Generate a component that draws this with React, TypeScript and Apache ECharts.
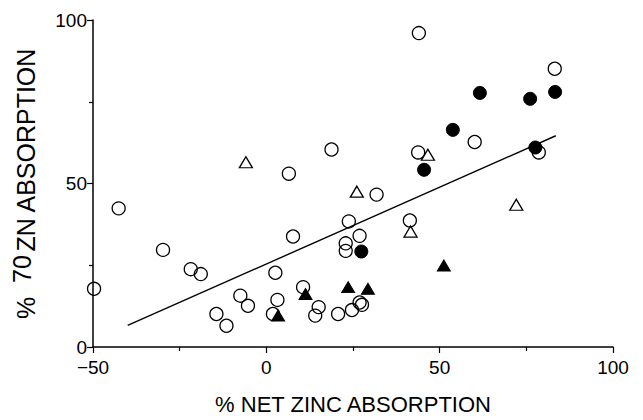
import React, { useEffect, useRef } from "react";
import * as echarts from "echarts";

// % net zinc absorption (x) vs % 70Zn absorption (y)
const openCircles: [number, number][] = [
  [-49.7, 17.8], [-42.6, 42.4], [-29.8, 29.7], [-21.8, 23.8], [-18.9, 22.3],
  [-14.4, 10.1], [-11.5, 6.5], [-7.5, 15.7], [-5.3, 12.6], [2.6, 22.7],
  [3.2, 14.4], [1.9, 10.1], [6.5, 53.0], [7.7, 33.8], [10.6, 18.3],
  [15.1, 12.2], [14.1, 9.6], [18.8, 60.4], [20.7, 10.1], [23.8, 38.4],
  [22.9, 31.7], [22.9, 29.4], [24.7, 11.3], [26.9, 34.0], [26.9, 13.6],
  [27.6, 12.9], [31.8, 46.6], [41.4, 38.7], [43.8, 59.5], [44.0, 96.0],
  [60.1, 62.7], [78.6, 59.5], [83.2, 85.1],
];
const filledCircles: [number, number][] = [
  [27.4, 29.2], [45.5, 54.2], [53.8, 66.4], [61.6, 77.7], [76.1, 75.9],
  [77.6, 61.0], [83.3, 78.0],
];
const openTriangles: [number, number][] = [
  [-5.9, 56.5], [26.1, 47.5], [41.6, 35.3], [46.6, 58.8], [72.1, 43.5],
];
const filledTriangles: [number, number][] = [
  [3.4, 9.6], [11.3, 16.2], [23.6, 18.3], [29.3, 17.8], [51.2, 24.9],
];
const regressionLine: [number, number][] = [
  [-40, 6.6], [83.5, 64.6],
];
const xTicks = [-50, 0, 50, 100];
const yTicks = [0, 50, 100];

const FONT = "Liberation Sans";

export default function App() {
  const ref = useRef<HTMLDivElement>(null);
  useEffect(() => {
    if (!ref.current) return;
    const chart = echarts.init(ref.current, undefined, { renderer: "svg" });
    const axisCommon = {
      axisLine: { onZero: false, lineStyle: { color: "#000", width: 1.5 } },
      axisTick: { show: true, length: 6, lineStyle: { color: "#000", width: 1.2 } },
      minorTick: { show: true, splitNumber: 2, length: 4, lineStyle: { color: "#000", width: 1.2 } },
      splitLine: { show: false },
      minorSplitLine: { show: false },
    };
    chart.setOption({
      animation: false,
      backgroundColor: "#fff",
      grid: { left: 93, right: 30, top: 20, bottom: 73, containLabel: false },
      xAxis: {
        type: "value",
        min: xTicks[0],
        max: xTicks[xTicks.length - 1],
        interval: 50,
        ...axisCommon,
        axisLabel: {
          color: "#000",
          fontFamily: FONT,
          fontSize: 19,
          margin: 11,
          formatter: (v: number) => (v < 0 ? "\u2212" + Math.abs(v) : String(v)),
        },
        name: "% NET ZINC ABSORPTION",
        nameLocation: "middle",
        nameGap: 46,
        nameTextStyle: { color: "#000", fontFamily: FONT, fontSize: 22 },
      },
      yAxis: {
        type: "value",
        min: yTicks[0],
        max: yTicks[yTicks.length - 1],
        interval: 50,
        ...axisCommon,
        axisLabel: { color: "#000", fontFamily: FONT, fontSize: 19, margin: 6 },
        name: "{a|%  }{s|70}{a|ZN ABSORPTION}",
        nameLocation: "middle",
        nameGap: 50,
        nameTextStyle: {
          color: "#000",
          fontFamily: FONT,
          fontSize: 25,
          rich: {
            a: { color: "#000", fontFamily: FONT, fontSize: 25, lineHeight: 34 },
            s: { color: "#000", fontFamily: FONT, fontSize: 25, lineHeight: 24, verticalAlign: "top", padding: [0, 3, 0, 0] },
          },
        },
      },
      series: [
        {
          type: "line",
          data: regressionLine,
          symbol: "none",
          lineStyle: { color: "#000", width: 1.4 },
          z: 1,
        },
        {
          type: "scatter",
          data: openCircles,
          symbol: "circle",
          symbolSize: 13,
          itemStyle: { color: "rgba(255,255,255,0)", borderColor: "#000", borderWidth: 1.3, opacity: 1 },
          z: 2,
        },
        {
          type: "scatter",
          data: filledCircles,
          symbol: "circle",
          symbolSize: 13,
          itemStyle: { color: "#000", borderColor: "#000", borderWidth: 1, opacity: 1 },
          z: 3,
        },
        {
          type: "scatter",
          data: openTriangles,
          symbol: "triangle",
          symbolSize: [13, 11],
          itemStyle: { color: "rgba(255,255,255,0)", borderColor: "#000", borderWidth: 1.3, opacity: 1 },
          z: 3,
        },
        {
          type: "scatter",
          data: filledTriangles,
          symbol: "triangle",
          symbolSize: [13, 11],
          itemStyle: { color: "#000", borderColor: "#000", borderWidth: 1, opacity: 1 },
          z: 3,
        },
      ],
    });
    return () => chart.dispose();
  }, []);
  return (
    <div
      ref={ref}
      style={{ position: "absolute", left: 0, top: 0, width: 643, height: 420, background: "#fff" }}
    />
  );
}
